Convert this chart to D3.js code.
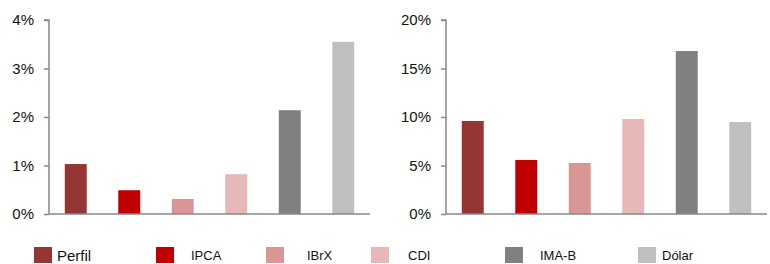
<!DOCTYPE html>
<html>
<head>
<meta charset="utf-8">
<script src="https://cdn.jsdelivr.net/npm/d3@7"></script>
<style>
  body { margin: 0; background: #fff; }
  svg { display: block; font-family: "Liberation Sans", Arial, sans-serif; }
  .axis path, .axis line { stroke: #888; }
  .axis text { fill: #111; font-size: 15px; }
</style>
</head>
<body>
<svg id="chart" width="770" height="264"></svg>
<script>
    // categories and colours
    var categories = ["Perfil", "IPCA", "IBrX", "CDI", "IMA-B", "Dólar"];
    var colors = ["#963634", "#c00000", "#da9694", "#e6b8b7", "#808080", "#bfbfbf"];

    // values (in %)
    var leftValues = [1.03, 0.49, 0.31, 0.82, 2.14, 3.55];
    var rightValues = [9.59, 5.57, 5.26, 9.79, 16.8, 9.48];

    // tick values
    var leftTicks = [0, 1, 2, 3, 4];
    var rightTicks = [0, 5, 10, 15, 20];

    // legend positions (swatch x, text x)
    var legendSwatchX = [34, 156, 266, 371, 505, 638];
    var legendTextX = [57, 191, 307, 408, 540, 662];

    var svg = d3.select("#chart");

    var plotTop = 20, plotBottom = 214;

    // draw one bar panel
    function drawPanel(x0, x1, values, ticks) {
        var g = svg.append("g");

        var x = d3.scaleBand()
            .domain(categories)
            .range([x0, x1])
            .paddingInner(0.59)
            .paddingOuter(0.295);

        var y = d3.scaleLinear()
            .domain([ticks[0], ticks[ticks.length - 1]])
            .range([plotBottom, plotTop]);

        g.selectAll("rect")
            .data(values)
            .enter().append("rect")
            .attr("x", function (d, i) { return x(categories[i]); })
            .attr("y", function (d) { return y(d); })
            .attr("width", x.bandwidth())
            .attr("height", function (d) { return plotBottom - y(d); })
            .attr("fill", function (d, i) { return colors[i]; });

        var yAxis = g.append("g")
            .attr("class", "axis")
            .attr("transform", "translate(" + x0 + ",0)")
            .call(d3.axisLeft(y)
                .tickValues(ticks)
                .tickSize(5)
                .tickPadding(10)
                .tickFormat(function (d) { return d + "%"; }));
        yAxis.select(".domain")
            .attr("d", "M-5," + plotTop + "H0V" + plotBottom)
            .attr("stroke-width", 1.5);
        yAxis.selectAll("line").attr("stroke-width", 1.5);

        // baseline
        g.append("line")
            .attr("x1", x0)
            .attr("x2", x1)
            .attr("y1", plotBottom)
            .attr("y2", plotBottom)
            .attr("stroke", "#888")
            .attr("stroke-width", 1.5);
    }

    drawPanel(49, 370, leftValues, leftTicks);
    drawPanel(446, 767, rightValues, rightTicks);

    // legend
    var legend = svg.append("g").attr("class", "legend");

    legend.selectAll("rect")
        .data(categories)
        .enter().append("rect")
        .attr("x", function (d, i) { return legendSwatchX[i]; })
        .attr("y", 247)
        .attr("width", 18)
        .attr("height", 16)
        .attr("fill", function (d, i) { return colors[i]; });

    legend.selectAll("text")
        .data(categories)
        .enter().append("text")
        .attr("x", function (d, i) { return legendTextX[i]; })
        .attr("y", function (d, i) { return i === 0 ? 261 : 260; })
        .attr("font-size", function (d, i) { return i === 0 ? "15px" : "13px"; })
        .attr("fill", "#111")
        .text(function (d) { return d; });
</script>
</body>
</html>
